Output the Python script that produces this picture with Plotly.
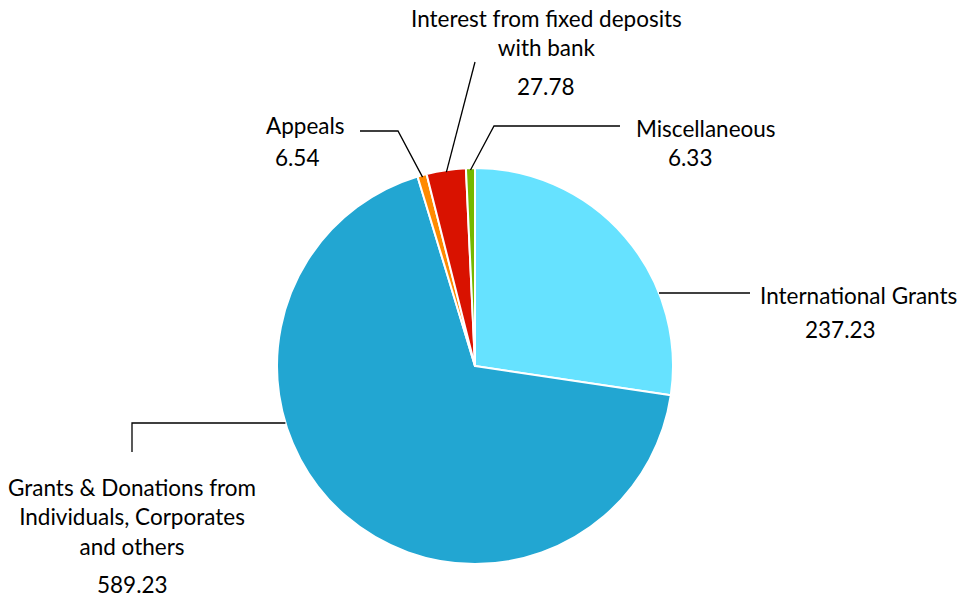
import math
import plotly.graph_objects as go

# ---- data ----
categories = [
    "International Grants",
    "Grants & Donations from Individuals, Corporates and others",
    "Appeals",
    "Interest from fixed deposits with bank",
    "Miscellaneous",
]
label_text = [
    "International Grants",
    "Grants & Donations from<br>Individuals, Corporates<br>and others",
    "Appeals",
    "Interest from fixed deposits<br>with bank",
    "Miscellaneous",
]
values = [237.23, 589.23, 6.54, 27.78, 6.33]
colors = ["#66E2FF", "#22A6D2", "#FF8A00", "#D91200", "#74B800"]

# ---- layout (pixels) ----
W, H = 963, 603
CX, CY, R = 475, 366, 198
FONT = "Lato"
FS = 22.5

def px(x, y):
    return x / W, 1 - y / H

# leader line specs
leaders = [
    ("hy", 293, [(750, 293)]),
    ("hy", 423, [(132, 423), (132, 452)]),
    ("mid", None, [(398, 131), (360, 131)]),
    ("mid", None, [(475, 62)]),
    ("mid", None, [(494, 126), (620, 126)]),
]
name_pos = [(758, 295, "left"), (132, 517, "center"), (305, 125, "center"),
            (546, 33, "center"), (634, 128, "left")]
value_pos = [(840, 330), (132, 584), (297, 158), (546, 86), (690, 158)]

fig = go.Figure()
fig.add_trace(go.Pie(
    labels=categories, values=values, sort=False, direction="clockwise",
    rotation=0, textinfo="none", hoverinfo="label+value",
    marker=dict(colors=colors, line=dict(color="white", width=2)),
    domain=dict(x=[(CX - R) / W, (CX + R) / W],
                y=[(H - CY - R) / H, (H - CY + R) / H]),
    showlegend=False,
))

total = sum(values)
shapes = []
cum = 0.0
for i, v in enumerate(values):
    a0 = cum / total * 360
    cum += v
    a1 = cum / total * 360
    kind, yy, pts = leaders[i]
    if kind == "mid":
        am = math.radians((a0 + a1) / 2)
        sx = CX + (R - 2) * math.sin(am)
        sy = CY - (R - 2) * math.cos(am)
    else:
        dx = math.sqrt(R * R - (yy - CY) ** 2)
        sy = yy
        sx = CX + dx if pts[0][0] > CX else CX - dx
    allp = [(sx, sy)] + pts
    path = "M " + " L ".join("%.5f,%.5f" % px(x, y) for x, y in allp)
    shapes.append(dict(type="path", xref="paper", yref="paper", path=path,
                       line=dict(color="black", width=1.3)))

annotations = []
for i in range(len(values)):
    nx, ny, anc = name_pos[i]
    x, y = px(nx, ny)
    annotations.append(dict(x=x, y=y, xref="paper", yref="paper", text=label_text[i],
                            showarrow=False, xanchor=anc, yanchor="middle", align="center",
                            font=dict(family=FONT, size=FS, color="black")))
    vx, vy = value_pos[i]
    x, y = px(vx, vy)
    annotations.append(dict(x=x, y=y, xref="paper", yref="paper", text="%.2f" % values[i],
                            showarrow=False, xanchor="center", yanchor="middle",
                            font=dict(family=FONT, size=FS, color="black")))

fig.update_layout(
    width=W, height=H, margin=dict(l=0, r=0, t=0, b=0),
    paper_bgcolor="white", plot_bgcolor="white",
    shapes=shapes, annotations=annotations,
    font=dict(family=FONT, size=FS, color="black"),
)
fig.write_html("out.html", config={"displayModeBar": False},
               post_script="document.body.style.margin='0';document.body.style.overflow='hidden';")
